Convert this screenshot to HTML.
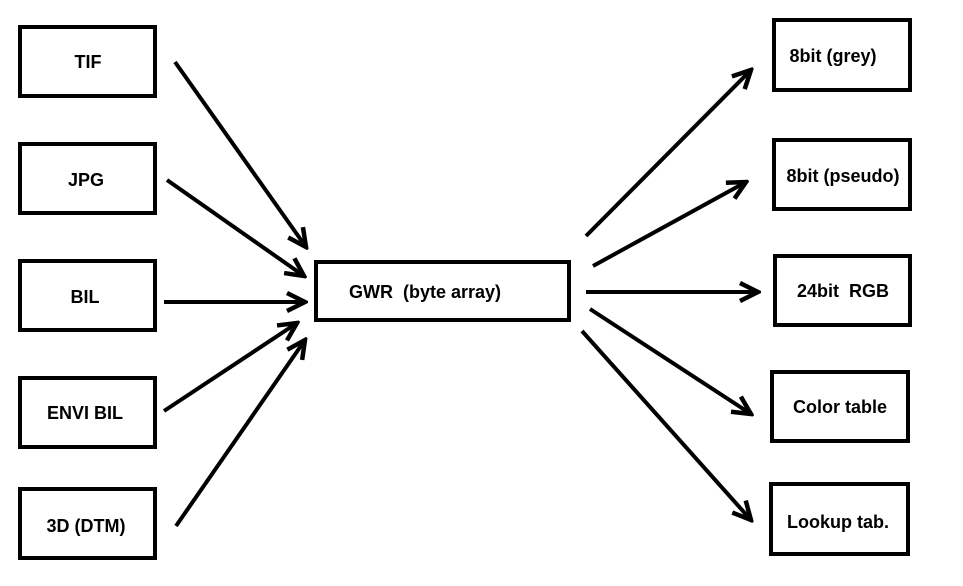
<!DOCTYPE html>
<html><head><style>
html,body{margin:0;padding:0;background:#fff;}
svg{display:block;}
text{font-family:"Liberation Sans",Arial,sans-serif;font-weight:bold;font-size:18px;fill:#000;}
</style></head><body>
<svg width="963" height="586" viewBox="0 0 963 586" xmlns="http://www.w3.org/2000/svg">
<defs>
<marker id="a" viewBox="0 0 24 24" refX="21" refY="12" markerWidth="24" markerHeight="24" markerUnits="userSpaceOnUse" orient="auto">
<path d="M3,3 L21,12 L3,21" fill="none" stroke="#000" stroke-width="4.5"/>
</marker>
</defs>
<g fill="none" stroke="#000" stroke-width="4">
<rect x="20" y="27" width="135" height="69"/>
<rect x="20" y="144" width="135" height="69"/>
<rect x="20" y="261" width="135" height="69"/>
<rect x="20" y="378" width="135" height="69"/>
<rect x="20" y="489" width="135" height="69"/>
<rect x="316" y="262" width="253" height="58"/>
<rect x="774" y="20" width="136" height="70"/>
<rect x="774" y="140" width="136" height="69"/>
<rect x="775" y="256" width="135" height="69"/>
<rect x="772" y="372" width="136" height="69"/>
<rect x="771" y="484" width="137" height="70"/>
</g>
<g stroke="#000" stroke-width="4" fill="none" marker-end="url(#a)">
<line x1="175" y1="62" x2="306" y2="247"/>
<line x1="167" y1="180" x2="304" y2="276"/>
<line x1="164" y1="302" x2="305" y2="302"/>
<line x1="164" y1="411" x2="297" y2="323"/>
<line x1="176" y1="526" x2="305" y2="340"/>
<line x1="586" y1="236" x2="751" y2="70"/>
<line x1="593" y1="266" x2="746" y2="182"/>
<line x1="586" y1="292" x2="758" y2="292"/>
<line x1="590" y1="309" x2="751" y2="414"/>
<line x1="582" y1="331" x2="751" y2="520"/>
</g>
<text x="88" y="68" text-anchor="middle">TIF</text>
<text x="86" y="186" text-anchor="middle">JPG</text>
<text x="85" y="303" text-anchor="middle">BIL</text>
<text x="85" y="419" text-anchor="middle">ENVI BIL</text>
<text x="86" y="532" text-anchor="middle">3D (DTM)</text>
<text x="349" y="298" xml:space="preserve">GWR  (byte array)</text>
<text x="833" y="62" text-anchor="middle">8bit (grey)</text>
<text x="843" y="182" text-anchor="middle">8bit (pseudo)</text>
<text x="843" y="297" text-anchor="middle" xml:space="preserve">24bit  RGB</text>
<text x="840" y="413" text-anchor="middle">Color table</text>
<text x="838" y="528" text-anchor="middle">Lookup tab.</text>
</svg>
</body></html>
